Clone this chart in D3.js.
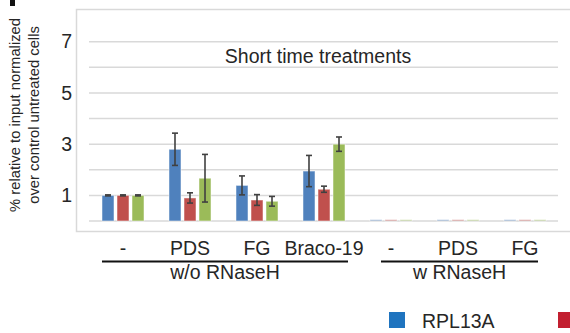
<!DOCTYPE html>
<html>
<head>
<meta charset="utf-8">
<script src="https://cdn.jsdelivr.net/npm/d3@7"></script>
<style>
  body { margin: 0; background: #fff; }
  text { font-family: "Liberation Sans", Arial, sans-serif; fill: #262626; }
</style>
</head>
<body>
<div id="chart"></div>
<script>
// data
const groups = ["g1", "g2", "g3", "g4", "g5", "g6", "g7"];
const groupLabels = ["-", "PDS", "FG", "Braco-19", "-", "PDS", "FG"];
const seriesNames = ["RPL13A", "series2", "series3"];
const seriesColors = ["#4f81bd", "#c0504d", "#9bbb59"];
const legendColors = ["#1f74bf", "#c21f30"];
const rpl13a = [1.0, 2.8, 1.39, 1.95, 0.06, 0.06, 0.06];
const series2 = [1.0, 0.9, 0.82, 1.24, 0.06, 0.06, 0.06];
const series3 = [1.0, 1.67, 0.77, 3.0, 0.06, 0.06, 0.06];
const rpl13aErr = [0.02, 0.63, 0.37, 0.61, 0, 0, 0];
const series2Err = [0.02, 0.2, 0.21, 0.12, 0, 0, 0];
const series3Err = [0.02, 0.93, 0.19, 0.28, 0, 0, 0];
const faded = [false, false, false, false, true, true, true];
const treatments = ["w/o RNaseH", "w RNaseH"];
const treatmentSpan = [["g1", "g4"], ["g5", "g7"]];
const yTicks = [1, 3, 5, 7];

const width = 570, height = 333;
const svg = d3.select("#chart").append("svg")
  .attr("width", width)
  .attr("height", height);

// chart box
svg.append("rect")
  .attr("x", 76.5).attr("y", 9.5)
  .attr("width", 520).attr("height", 222)
  .attr("fill", "none")
  .attr("stroke", "#d9d9d9")
  .attr("stroke-width", 1.5);

// bit of panel letter at top-left
svg.append("rect")
  .attr("x", 10).attr("y", 0).attr("width", 5).attr("height", 6)
  .attr("fill", "#111");

const x0 = d3.scaleBand()
  .domain(groups)
  .range([89.5, 558.5])
  .paddingInner(0.373)
  .paddingOuter(0.1865);

const x1 = d3.scaleBand()
  .domain(seriesNames)
  .range([0, x0.bandwidth()])
  .paddingInner(0.2);

const y = d3.scaleLinear()
  .domain([0, 7])
  .range([221, 41.7]);

// gridlines
svg.append("g").selectAll("line")
  .data(d3.range(0, 8))
  .join("line")
  .attr("x1", 89).attr("x2", 558)
  .attr("y1", d => y(d)).attr("y2", d => y(d))
  .attr("stroke", "#d9d9d9")
  .attr("stroke-width", 1.5);

// y axis labels
const yAxis = d3.axisLeft(y).tickValues(yTicks).tickFormat(d3.format("d")).tickSize(0).tickPadding(0);
svg.append("g")
  .attr("transform", "translate(72,0)")
  .call(yAxis)
  .call(g => g.select(".domain").remove())
  .call(g => g.selectAll("text")
    .attr("font-size", 19.5)
    .attr("font-family", "Liberation Sans, Arial, sans-serif")
    .attr("fill", "#262626"));

// bars
const values = [rpl13a, series2, series3];
const errors = [rpl13aErr, series2Err, series3Err];
const rows = [];
groups.forEach((g, i) => {
  seriesNames.forEach((s, j) => {
    rows.push({ group: g, series: s, value: values[j][i], err: errors[j][i], color: seriesColors[j], faded: faded[i] });
  });
});

svg.append("g").selectAll("rect")
  .data(rows)
  .join("rect")
  .attr("x", d => x0(d.group) + x1(d.series))
  .attr("y", d => y(d.value))
  .attr("width", x1.bandwidth())
  .attr("height", d => y(0) - y(d.value))
  .attr("fill", d => d.color)
  .attr("fill-opacity", d => d.faded ? 0.45 : 1)
  .attr("stroke", "#ffffff")
  .attr("stroke-opacity", 0.5)
  .attr("stroke-width", 1);

// error bars
const errRows = rows.filter(d => d.err > 0);
const eb = svg.append("g").selectAll("g")
  .data(errRows)
  .join("g")
  .attr("transform", d => `translate(${x0(d.group) + x1(d.series) + x1.bandwidth() / 2},0)`)
  .attr("stroke", "#404040")
  .attr("stroke-width", 1.6);
eb.append("line")
  .attr("y1", d => y(d.value - d.err)).attr("y2", d => y(d.value + d.err));
eb.append("line")
  .attr("x1", -3).attr("x2", 3)
  .attr("y1", d => y(d.value - d.err)).attr("y2", d => y(d.value - d.err));
eb.append("line")
  .attr("x1", -3).attr("x2", 3)
  .attr("y1", d => y(d.value + d.err)).attr("y2", d => y(d.value + d.err));

// title
svg.append("text")
  .attr("x", 318).attr("y", 63)
  .attr("text-anchor", "middle")
  .attr("font-size", 19.5)
  .text("Short time treatments");

// y title
const yTitle = ["% relative to input normalized", "over control untreated cells"];
svg.append("g").selectAll("text")
  .data(yTitle)
  .join("text")
  .attr("transform", (d, i) => `translate(${20 + i * 18.5},115) rotate(-90)`)
  .attr("text-anchor", "middle")
  .attr("font-size", 14.8)
  .text(d => d);

// category labels
svg.append("g").selectAll("text")
  .data(groups)
  .join("text")
  .attr("x", d => x0(d) + x0.bandwidth() / 2)
  .attr("y", 255)
  .attr("text-anchor", "middle")
  .attr("font-size", 19.5)
  .text((d, i) => groupLabels[i]);

// treatment brackets
const insets = [[0, -3], [11, 8]];
treatmentSpan.forEach((span, i) => {
  const xa = x0(span[0]) + insets[i][0];
  const xb = x0(span[1]) + x0.bandwidth() - insets[i][1];
  svg.append("line")
    .attr("x1", xa).attr("x2", xb)
    .attr("y1", 261.5).attr("y2", 261.5)
    .attr("stroke", "#111")
    .attr("stroke-width", 2.2);
  svg.append("text")
    .attr("x", (xa + xb) / 2).attr("y", 278.5)
    .attr("text-anchor", "middle")
    .attr("font-size", 19.5)
    .text(treatments[i]);
});

// legend
const legend = svg.append("g").selectAll("g")
  .data(legendColors)
  .join("g")
  .attr("transform", (d, i) => `translate(${389 + i * 169},312)`);
legend.append("rect")
  .attr("width", 16).attr("height", 16)
  .attr("fill", d => d);
legend.filter((d, i) => i === 0).append("text")
  .attr("x", 33).attr("y", 16)
  .attr("font-size", 19.5)
  .text(seriesNames[0]);
</script>
</body>
</html>
